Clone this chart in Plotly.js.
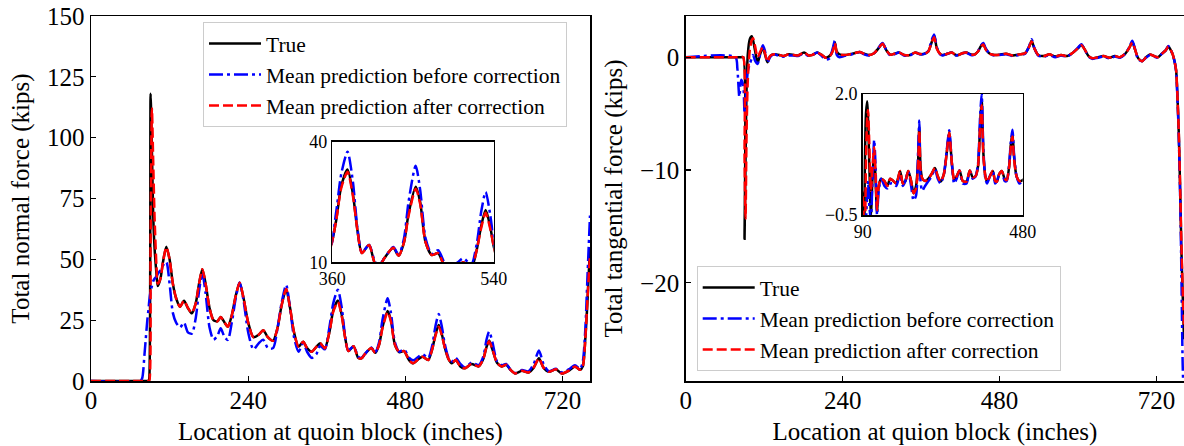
<!DOCTYPE html>
<html>
<head>
<meta charset="utf-8">
<script src="https://cdn.plot.ly/plotly-3.0.1.min.js"></script>
<style>html,body{margin:0;padding:0;background:#fff;}#chart{width:1184px;height:446px;}</style>
</head>
<body>
<div id="chart"></div>
<script>
// ---------- Left panel: total normal force (kips) ----------
const normalX = [0,75,78,82,86,88,89,91,93,95,97,100,102,106,110,115,120,125,130,136,142,148,154,160,165,170,175,181,187,193,198,204,209,215,221,227,233,240,248,256,263,270,278,285,291,298,304,310,317,324,330,337,344,350,357,364,370,377,383,388,393,401,408,413,418,428,434,440,445,453,458,464,471,478,486,492,500,506,515,521,526,531,536,540,546,551,557,564,571,581,592,599,604,608,613,620,627,634,641,648,658,668,676,684,691,699,710,719,731,739,747,751,755,758,762];
const normalTrue = [0,0,0,0,0,0,1,118,95,68,55,44,39,42,49,55.2,50,40,34,30.5,33,30,27.8,32,40,45.9,40,30,25,24.5,26.3,24,22.3,27,35,40.4,34,24,18,19,20.9,18,16.5,22,31,37.8,30,20,14.1,16.1,13.5,12,14,15.5,13.4,20,29,33.1,27,18,12.3,14.3,9.5,9.3,11,13.6,11.6,15,22,28.8,25,15,11.8,12.3,8.5,7.3,9,10,8.6,13,19,23,19,14,9,7.3,8.6,6,5.2,7,6,9,14,16.6,13,7.5,6,6.7,4.5,3.1,4.2,3.5,5.5,9.3,5.5,3.8,4.8,3.1,4.5,6,4.6,6,18,32,55];
const normalBefore = [0,0,1,12,25,30,33,37,39,41,42,43,44,45.5,47.5,49,40,28,24,22,24,20,19.5,26,37,44.3,36,22,17,18.5,21.7,18,16.9,24,34,40.5,33,20,13,15.5,17,13.5,13.5,22,32,39.5,30,18,12,15.5,12,9.5,11,14.5,13,22,32,37.5,30,18.5,12.5,14.3,10,9.5,11,13.8,11.8,16,25,34,28,16,12,13,9.5,8.5,10,11,9.5,14.5,22.5,27.5,22,15.5,9.5,8,9.5,7,5.5,7.5,6.5,10,17,20.3,16,8,6.5,7,4.5,3.3,4.5,4,7,12.5,7,4,5,3.5,5,6.5,5,8,22,42,68];
const normalAfter = [0,0,0,0,0,0,0,55,112,90,68,47,40,42,49,55,50,40,34,30.5,33,30,28,32,40,45.9,40,30,25,24.5,26.3,24,22.3,27,35,40.4,34,24,18,19,20.9,18,16.5,22,31,37.8,30,20,14.1,16.1,13.5,12,14,15.5,13.4,20,28.5,32.5,26.5,18,12.3,14.3,9.5,9.3,11,13.6,11.6,15,21.5,28.3,24.5,15,11.8,12.3,8.5,7.3,9,10,8.6,13,18.5,22.3,18.5,14,9,7.3,8.6,6,5.2,7,6,9,14,16.3,13,7.5,6,6.7,4.5,3.1,4.2,3.5,5.5,9.3,5.5,3.8,4.8,3.1,4.5,6,4.6,6,18,33,52];

// ---------- Right panel: total tangential force (kips) ----------
const tangX = [0,76,79,82,85,88,90,91.5,93,95,98,101,103,106,110,114,118,121,125,129,135,143,150,157,165,172,181,188,194,201,208,214,220,225,228,231,235,242,250,258,266,273,280,288,295,301,307,313,319,326,334,343,351,358,365,371,376,380,384,389,393,400,407,413,417,423,429,436,441,447,451,455,459,465,472,480,490,500,510,519,525,529,533,539,548,556,565,574,583,592,600,605,610,616,622,630,639,648,656,664,672,678,683,687,692,698,704,710,716,722,728,734,738,742,745,748,750,752,754,756.5,758,760,762];
const tangTrue = [0,0,0,0,0,0,-16.1,-9,-3,0.3,1.6,1.85,1.5,0.6,-0.5,0.3,0.8,0.3,-0.45,0.1,0.25,0.2,0.1,0.25,0.2,0.15,0.41,0.15,0.2,0.41,0.2,-0.05,0.1,0.6,1.32,0.5,0.26,0.2,0.25,0.35,0.47,0.3,0.19,0.35,0.8,1.22,0.6,0.22,0.3,0.42,0.2,0.19,0.42,0.28,0.3,0.5,1.3,1.9,0.8,0.3,0.19,0.3,0.41,0.2,0.19,0.35,0.41,0.25,0.22,0.5,0.95,1.18,0.7,0.3,0.2,0.22,0.3,0.15,0.25,0.35,0.9,1.45,0.8,0.2,0.1,0.25,0.05,0.2,0.1,0.4,0.8,1.1,0.7,0.1,-0.1,0,0.1,-0.05,0.1,0,0.3,0.8,1.35,0.7,-0.1,-0.35,0,0.24,0.1,0,0.3,0.6,0.95,0.6,0.2,-0.5,-1.2,-3.5,-6.7,-12.7,-17,-21,-25];
const tangBefore = [0,0,-1,-3.5,-2,-2.5,-5,-4,-2.5,-1.2,-0.6,-0.1,0.2,-0.3,-0.6,0.3,1.05,0.6,-0.5,0,0.25,0.1,0.05,0.15,0.15,0.1,0.35,0.1,0.2,0.41,0.1,-0.2,-0.1,0.8,1.45,0.2,0,0.1,0.2,0.3,0.45,0.25,0.15,0.35,0.85,1.25,0.6,0.15,0.25,0.42,0.15,0.15,0.42,0.25,0.3,0.55,1.5,2.0,0.9,0.25,0.15,0.3,0.41,0.15,0.2,0.35,0.4,0.2,0.2,0.55,1.0,1.26,0.75,0.3,0.15,0.2,0.25,0.1,0.2,0.3,0.95,1.6,0.85,0.15,0.05,0.2,0,0.15,0.05,0.4,0.85,1.15,0.7,0.05,-0.15,-0.05,0.05,-0.1,0.05,-0.05,0.3,0.85,1.45,0.75,-0.2,-0.35,-0.05,0.2,0.05,-0.05,0.3,0.6,1.0,0.6,0.2,-0.5,-1.3,-3.7,-7,-13.5,-19,-27.3,-31];
const tangAfter = [0,0,0,0,0,0,-9,-14.3,-7,-2,0.6,1.5,1.67,1.0,0,0.5,0.9,0.4,-0.4,0.1,0.25,0.2,0.1,0.25,0.2,0.15,0.41,0.15,0.2,0.41,0.2,-0.05,0.05,0.55,1.25,0.45,0.26,0.2,0.25,0.35,0.47,0.3,0.19,0.35,0.8,1.2,0.6,0.22,0.3,0.42,0.2,0.19,0.42,0.28,0.3,0.5,1.3,1.77,0.75,0.3,0.19,0.3,0.41,0.2,0.19,0.35,0.41,0.25,0.22,0.5,0.9,1.12,0.65,0.3,0.2,0.22,0.3,0.15,0.25,0.35,0.9,1.4,0.8,0.2,0.1,0.25,0.05,0.2,0.1,0.4,0.8,1.05,0.7,0.1,-0.1,0,0.1,-0.05,0.1,0,0.3,0.8,1.3,0.7,-0.1,-0.35,0,0.24,0.1,0,0.3,0.6,0.95,0.6,0.2,-0.5,-1.2,-3.5,-6.6,-12.5,-16.5,-20.5,-24];

// ---------- labels & ticks ----------
const seriesNames = ['True', 'Mean prediction before correction', 'Mean prediction after correction'];
const xTicks = [0, 240, 480, 720];
const normalTicks = [0, 25, 50, 75, 100, 125, 150];
const tangTicks = [-20, -10, 0];
const insetNormalXTicks = [360, 540];
const insetNormalYTicks = [10, 40];
const insetTangXTicks = [90, 480];
const insetTangYTicks = [-0.5, 2.0];

const FONT = 'Liberation Serif, Times New Roman, serif';
const styles = [
  {color: '#000000', width: 2.5, dash: 'solid'},
  {color: '#0000ff', width: 2.5, dash: '14px,4px,3px,4px'},
  {color: '#ff0000', width: 2.5, dash: '10px,4px'}
];

function makeTraces(x, ys, xa, ya, legendName, show) {
  return ys.map((y, i) => ({
    type: 'scatter', mode: 'lines', x: x, y: y, xaxis: xa, yaxis: ya,
    name: seriesNames[i], legend: legendName, showlegend: show,
    line: Object.assign({shape: 'spline', smoothing: 0.7}, styles[i]),
    hoverinfo: 'skip'
  }));
}

const traces = [].concat(
  makeTraces(normalX, [normalTrue, normalBefore, normalAfter], 'x', 'y', 'legend', true),
  makeTraces(tangX, [tangTrue, tangBefore, tangAfter], 'x2', 'y2', 'legend2', true),
  makeTraces(normalX, [normalTrue, normalBefore, normalAfter], 'x3', 'y3', 'legend', false),
  makeTraces(tangX, [tangTrue, tangBefore, tangAfter], 'x4', 'y4', 'legend2', false)
);

const axBase = {
  showline: true, mirror: true, linecolor: '#000', linewidth: 1.5,
  ticks: 'inside', ticklen: 5, tickwidth: 1.2, tickcolor: '#000',
  showgrid: false, zeroline: false, tickfont: {family: FONT, size: 25, color: '#000'}
};
const insetBase = {
  showline: true, mirror: true, linecolor: '#000', linewidth: 1.5,
  ticks: '', showgrid: false, zeroline: false, tickfont: {family: FONT, size: 18, color: '#000'}
};
const W = 1184 - 91;
const H = 446 - 16 - 65;
const px = v => (v - 91) / W;
const py = v => (381 - v) / H;

const layout = {
  width: 1184, height: 446,
  margin: {l: 91, r: 0, t: 16, b: 65},
  paper_bgcolor: '#fff', plot_bgcolor: '#fff',
  font: {family: FONT, size: 25, color: '#000'},
  xaxis: Object.assign({}, axBase, {domain: [0, px(590)], anchor: 'y', range: [0, 762], tickvals: xTicks, ticklabelstandoff: -4,
    title: {text: 'Location at quoin block (inches)', font: {family: FONT, size: 25}, standoff: 10}}),
  yaxis: Object.assign({}, axBase, {domain: [0, 1], anchor: 'x', range: [0, 150], tickvals: normalTicks,
    title: {text: 'Total normal force (kips)', font: {family: FONT, size: 25}, standoff: 10}}),
  xaxis2: Object.assign({}, axBase, {domain: [px(685.7), 1], anchor: 'y2', range: [0, 762], tickvals: xTicks, ticklabelstandoff: -4,
    title: {text: 'Location at quion block (inches)', font: {family: FONT, size: 25}, standoff: 10}}),
  yaxis2: Object.assign({}, axBase, {domain: [0, 1], anchor: 'x2', range: [-28.7, 3.65], tickvals: tangTicks,
    title: {text: 'Total tangential force (kips)', font: {family: FONT, size: 25}, standoff: 10}}),
  xaxis3: Object.assign({}, insetBase, {domain: [px(332.3), px(493.7)], anchor: 'y3', range: [360, 540], tickvals: insetNormalXTicks}),
  yaxis3: Object.assign({}, insetBase, {domain: [py(262.3), py(141.7)], anchor: 'x3', range: [10, 40], tickvals: insetNormalYTicks}),
  xaxis4: Object.assign({}, insetBase, {domain: [px(862.7), px(1022.7)], anchor: 'y4', range: [90, 480], tickvals: insetTangXTicks}),
  yaxis4: Object.assign({}, insetBase, {domain: [py(215), py(94)], anchor: 'x4', range: [-0.5, 2.0], tickvals: insetTangYTicks, ticktext: ['\u22120.5', '2.0']}),
  legend: {x: px(203), y: py(22), xanchor: 'left', yanchor: 'top', bgcolor: 'rgba(255,255,255,0.8)', itemwidth: 52,
    bordercolor: '#cccccc', borderwidth: 1, font: {family: FONT, size: 21.5, color: '#000'}},
  legend2: {x: px(696.7), y: py(266), xanchor: 'left', yanchor: 'top', bgcolor: 'rgba(255,255,255,0.8)', itemwidth: 52,
    bordercolor: '#cccccc', borderwidth: 1, font: {family: FONT, size: 21.5, color: '#000'}},
  showlegend: true
};

Plotly.newPlot('chart', traces, layout, {staticPlot: true, displayModeBar: false});
</script>
</body>
</html>
